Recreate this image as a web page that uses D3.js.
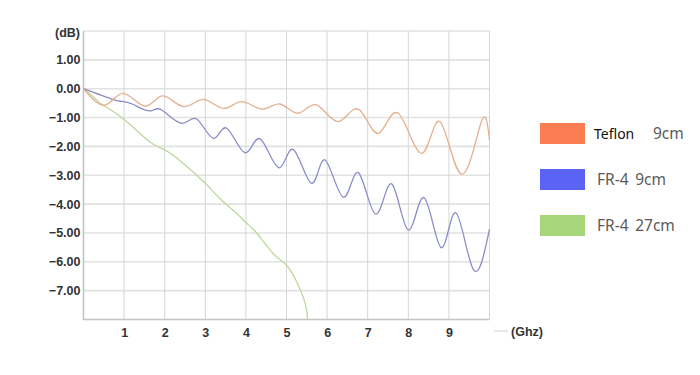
<!DOCTYPE html>
<html>
<head>
<meta charset="utf-8">
<script src="https://cdn.jsdelivr.net/npm/d3@7"></script>
<style>
    body { margin: 0; background: #fff; }
    svg { display: block; }
</style>
</head>
<body>
<div id="chart"></div>
<script>

// frequency (GHz) / attenuation (dB)
var teflonFreq = [0, 0.53, 0.98, 1.51, 1.95, 2.46, 2.95, 3.44, 3.9, 4.4, 4.84, 5.29, 5.74, 6.27, 6.77, 7.26, 7.75, 8.33, 8.78, 9.31, 9.8, 10];
var teflonDb   = [0, -0.57, -0.16, -0.6, -0.25, -0.62, -0.37, -0.68, -0.45, -0.71, -0.53, -0.85, -0.56, -1.14, -0.71, -1.55, -0.85, -2.24, -1.14, -2.96, -1.14, -1.78];

var fr4Freq = [0, 0.7, 0.95, 1.2, 1.44, 1.69, 1.93, 2.42, 2.79, 3.2, 3.53, 3.98, 4.35, 4.81, 5.17, 5.62, 5.95, 6.4, 6.77, 7.2, 7.59, 8.0, 8.39, 8.81, 9.17, 9.6, 10];
var fr4Db   = [0, -0.36, -0.44, -0.53, -0.7, -0.76, -0.74, -1.2, -1.05, -1.72, -1.37, -2.22, -1.74, -2.74, -2.11, -3.28, -2.47, -3.76, -2.91, -4.35, -3.3, -4.9, -3.78, -5.51, -4.3, -6.26, -4.87];

var fr4LongFreq = [0, 0.21, 0.46, 0.97, 1.63, 2.0, 2.46, 3.0, 3.4, 3.77, 4.06, 4.27, 4.67, 5.0, 5.25, 5.46, 5.52];
var fr4LongDb   = [0, -0.24, -0.55, -1.03, -1.84, -2.12, -2.59, -3.28, -3.86, -4.32, -4.72, -5.01, -5.71, -6.12, -6.69, -7.44, -8.0];

var seriesNames = ["Teflon", "FR-4 9cm", "FR-4 27cm"];
var xTicks = [1, 2, 3, 4, 5, 6, 7, 8, 9];
var yTicks = [1, 0, -1, -2, -3, -4, -5, -6, -7];

var dim = { "w": 700, "h": 375 };
var box = { "left": 83.5, "right": 489.5, "top": 31, "bottom": 319.5 };

var svg = d3.select("#chart").append("svg")
        .attr("width", dim.w)
        .attr("height", dim.h);

var x = d3.scaleLinear().domain([0, 10]).range([box.left, box.right]);
var y = d3.scaleLinear().domain([-8, 2]).range([box.bottom, box.top]);

// horizontal grid
svg.append("g")
    .selectAll("line")
    .data([2, 1, 0, -1, -2, -3, -4, -5, -6, -7])
    .enter().append("line")
    .attr("x1", box.left).attr("x2", box.right)
    .attr("y1", function(d) { return y(d); })
    .attr("y2", function(d) { return y(d); })
    .attr("stroke", "#e2e2e2")
    .attr("stroke-width", 1.6);

// vertical grid
svg.append("g")
    .selectAll("line")
    .data(xTicks.concat([10]))
    .enter().append("line")
    .attr("x1", function(d) { return x(d); })
    .attr("x2", function(d) { return x(d); })
    .attr("y1", box.top).attr("y2", box.bottom)
    .attr("stroke", "#d6d6d6")
    .attr("stroke-width", 1);

// left + bottom border
svg.append("path")
    .attr("d", "M" + box.left + "," + box.top + "V" + box.bottom + "H" + box.right)
    .attr("fill", "none")
    .attr("stroke", "#c4c4c4")
    .attr("stroke-width", 1.6);

var yAxis = d3.axisLeft(y).tickValues(yTicks).tickSize(0).tickPadding(3)
        .tickFormat(d3.format(".2f"));
var xAxis = d3.axisBottom(x).tickValues(xTicks).tickSize(0).tickPadding(9)
        .tickFormat(d3.format("d"));

svg.append("g")
    .attr("transform", "translate(" + box.left + ",0)")
    .call(yAxis)
    .call(function(g) { g.select(".domain").remove(); });

svg.append("g")
    .attr("transform", "translate(0," + box.bottom + ")")
    .call(xAxis)
    .call(function(g) { g.select(".domain").remove(); });

svg.selectAll(".tick text")
    .style("font-family", "'Liberation Sans', Arial, sans-serif")
    .style("font-size", "12.5px")
    .style("font-weight", "bold")
    .attr("fill", "#333");

svg.append("text")
    .attr("x", 80).attr("y", 37)
    .attr("text-anchor", "end")
    .style("font-family", "'Liberation Sans', Arial, sans-serif")
    .style("font-size", "12.5px")
    .style("font-weight", "bold")
    .attr("fill", "#333")
    .text("(dB)");

svg.append("line")
    .attr("x1", 494).attr("x2", 508)
    .attr("y1", 331).attr("y2", 331)
    .attr("stroke", "#d0d0d0")
    .attr("stroke-width", 1);

svg.append("text")
    .attr("x", 511).attr("y", 336)
    .style("font-family", "'Liberation Sans', Arial, sans-serif")
    .style("font-size", "12.5px")
    .style("font-weight", "bold")
    .attr("fill", "#333")
    .text("(Ghz)");

// curves
var series = [
    { "name": seriesNames[0], "f": teflonFreq, "v": teflonDb, "line": "#e4b08f", "swatch": "#fb7e52" },
    { "name": seriesNames[1], "f": fr4Freq, "v": fr4Db, "line": "#8c8dc7", "swatch": "#5a63f3" },
    { "name": seriesNames[2], "f": fr4LongFreq, "v": fr4LongDb, "line": "#bcd79a", "swatch": "#a7d57a" }
];

var line = d3.line()
        .x(function(d) { return x(d[0]); })
        .y(function(d) { return y(d[1]); })
        .curve(d3.curveNatural);

svg.append("defs").append("clipPath")
    .attr("id", "plot")
    .append("rect")
    .attr("x", box.left).attr("y", box.top - 5)
    .attr("width", box.right - box.left + 2)
    .attr("height", box.bottom - box.top + 5);

svg.append("g")
    .attr("clip-path", "url(#plot)")
    .selectAll("path")
    .data(series.slice().reverse())
    .enter().append("path")
    .attr("d", function(s) { return line(d3.zip(s.f, s.v)); })
    .attr("fill", "none")
    .attr("stroke", function(s) { return s.line; })
    .attr("stroke-width", 1.3);

// legend
var legend = svg.append("g")
    .selectAll("g")
    .data(series)
    .enter().append("g")
    .attr("transform", function(s, i) { return "translate(540," + (123 + i * 46) + ")"; });

legend.append("rect")
    .attr("width", 45).attr("height", 21)
    .attr("fill", function(s) { return s.swatch; });

var label = legend.append("text")
    .attr("x", 57).attr("y", 16)
    .style("font-family", "'Noto Sans', sans-serif")
    .style("font-size", "15.5px")
    .attr("fill", "#5a5a5a");

label.filter(function(s, i) { return i == 0; })
    .call(function(t) {
        t.append("tspan")
            .attr("x", 54)
            .attr("fill", "#111")
            .style("font-size", "14px")
            .text("Teflon");
        t.append("tspan")
            .attr("x", 113)
            .text("9cm");
    });

label.filter(function(s, i) { return i > 0; })
    .text(function(s) { return s.name.replace(" ", "\u2009 "); });

</script>
</body>
</html>
